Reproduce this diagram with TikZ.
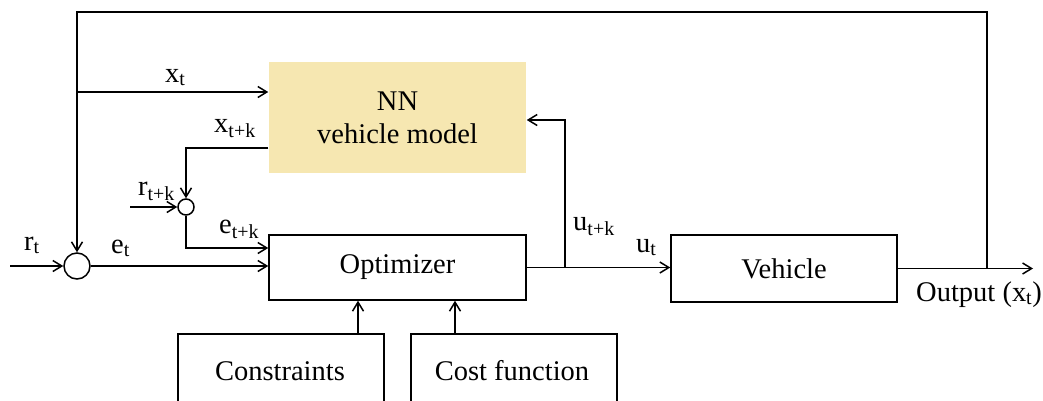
\documentclass[tikz,border=0pt]{standalone}
\usepackage{fontspec}
\setmainfont{Liberation Serif}
\usetikzlibrary{arrows.meta}
\definecolor{nnfill}{RGB}{246,231,177}
\tikzset{
  line/.style={line width=1.5pt},
  arr/.style={line width=1.5pt,-{Straight Barb[length=9pt,width=11pt,line width=1.5pt]}},
  blk/.style={draw,line width=1.5pt,inner sep=0pt,font=\fontsize{28.5}{33}\selectfont},
  sumc/.style={draw,circle,line width=1.5pt,inner sep=0pt},
  lbl/.style={anchor=base west,inner sep=0pt,font=\fontsize{28.5}{33}\selectfont}
}
\begin{document}
\begin{tikzpicture}[x=1pt,y=-1pt]
\useasboundingbox (0,0) rectangle (1043,400);
\clip (0,0) rectangle (1043,400);
% blocks
\node[blk,draw=none,fill=nnfill,minimum width=257pt,minimum height=111pt,align=center] (nn) at (397.5,117.5) {NN\\vehicle model};
\node[blk,minimum width=257pt,minimum height=65pt] (opt) at (397.5,267.5) {Optimizer};
\node[blk,minimum width=226pt,minimum height=67pt] (veh) at (784,268.5) {Vehicle};
\node[blk,minimum width=206pt,minimum height=100pt,text depth=0pt] (con) at (281,384) {};
\node[blk,minimum width=206pt,minimum height=100pt] (cost) at (514,384) {};
\node[lbl,anchor=base] (contxt) at (280,380) {Constraints};
\node[lbl,anchor=base] (costtxt) at (512,380) {Cost function};
% summing junctions
\node[sumc,minimum size=26pt] (s1) at (77,266) {};
\node[sumc,minimum size=16pt] (s2) at (186,207) {};
% free ends
\coordinate (rtin) at (10,266);
\coordinate (rtkin) at (130,207);
\coordinate (outend) at (1033,268.5);
\coordinate (obr) at (987,268.5);
\coordinate (ubr) at (565,267.5);
% connectors
\draw[arr] (rtin) -- (s1.west);
\draw[arr] (s1.east) -- (opt.west |- s1);
\draw[arr] (obr) |- (s1.north |- 0,12) -- (s1.north);
\draw[arr] (s1 |- 0,92) -- (nn.west |- 0,92);
\draw[arr] (nn.west |- 0,148) -| (s2.north);
\draw[arr] (rtkin) -- (s2.west);
\draw[arr] (s2.south) |- (opt.west |- 0,248);
\draw[arr] (opt.east) -- (veh.west |- opt.east);
\draw[arr] (ubr) |- (nn.east |- 0,120);
\draw[arr] (veh.east) -- (outend);
\draw[arr] (con.north -| 358,0) -- (opt.south -| 358,0);
\draw[arr] (cost.north -| 455,0) -- (opt.south -| 455,0);
% labels
\node[lbl] (lxt) at (165,82) {x\textsubscript{t}};
\node[lbl] (lxtk) at (214,132) {x\textsubscript{t+k}};
\node[lbl] (lrtk) at (138,195) {r\textsubscript{t+k}};
\node[lbl] (letk) at (219,233) {e\textsubscript{t+k}};
\node[lbl] (lrt) at (24,250) {r\textsubscript{t}};
\node[lbl] (let) at (111,253) {e\textsubscript{t}};
\node[lbl] (lutk) at (573,230) {u\textsubscript{t+k}};
\node[lbl] (lut) at (636,252) {u\textsubscript{t}};
\node[lbl] (lout) at (916,301) {Output (x\textsubscript{t})};
\end{tikzpicture}
\end{document}
